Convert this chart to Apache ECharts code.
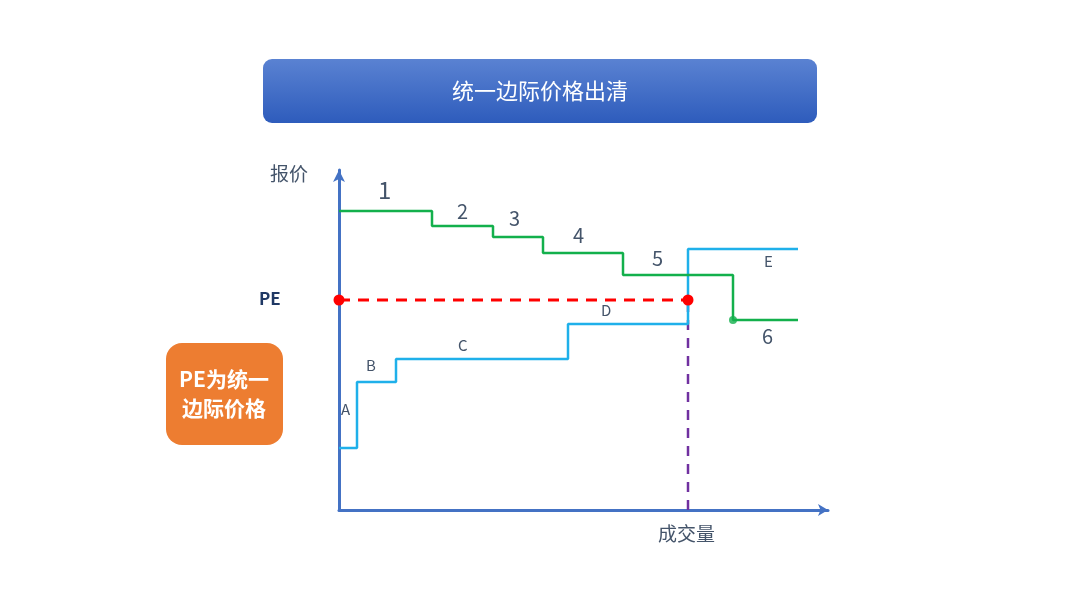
<!DOCTYPE html>
<html><head><meta charset="utf-8">
<script src="https://cdn.jsdelivr.net/npm/echarts@6/dist/echarts.min.js"></script>
<style>html,body{margin:0;padding:0;background:#fff}#c{width:1080px;height:608px}</style>
</head><body><div id="c"></div>
<script>
// Bid curve (green, descending): step start quantities and prices
var bidQty = [0, 93, 154, 204, 284, 394, 459];
var bidPrice = [299, 284, 273, 257, 235, 190, 190];
var bidLabels = ['1', '2', '3', '4', '5', '6'];
// Offer curve (blue, ascending)
var offerQty = [0, 18, 57, 229, 349, 459];
var offerPrice = [62, 128, 151, 186, 261, 261];
var offerLabels = ['A', 'B', 'C', 'D', 'E'];
// Clearing
var clearQty = 349;
var clearPrice = 210;

var F = '"Noto Sans CJK SC", "Noto Sans", sans-serif';
var bidData = bidQty.map(function (q, i) { return [q, bidPrice[i]]; });
var offerData = offerQty.map(function (q, i) { return [q, offerPrice[i]]; });

var chart = echarts.init(document.getElementById('c'));
function txt(x, y, s, size, color, weight) {
  return { type: 'text', left: x, top: y, z: 20,
    style: { text: s, fontSize: size, fill: color, fontFamily: F, fontWeight: weight || 'normal' } };
}
var labelColor = '#44546a';
chart.setOption({
  animation: false,
  grid: { left: 339, top: 170, width: 489, height: 340 },
  xAxis: { type: 'value', min: 0, max: 489, axisLine: { lineStyle: { color: '#4472c4', width: 3 }, symbol: ['none', 'arrow'], symbolSize: [9, 10] },
    axisTick: { show: false }, axisLabel: { show: false }, splitLine: { show: false } },
  yAxis: { type: 'value', min: 0, max: 340, axisLine: { lineStyle: { color: '#4472c4', width: 3 }, symbol: ['none', 'arrow'], symbolSize: [9, 12] },
    axisTick: { show: false }, axisLabel: { show: false }, splitLine: { show: false } },
  graphic: [
    { type: 'rect', shape: { x: 263, y: 59, width: 554, height: 64, r: 9 },
      style: { fill: new echarts.graphic.LinearGradient(0, 0, 0, 1, [{ offset: 0, color: '#5a82d2' }, { offset: 1, color: '#2e5cbc' }]) } },
    { type: 'text', x: 540, y: 91, style: { text: '统一边际价格出清', fontSize: 22, fill: '#ffffff', fontFamily: F, align: 'center', verticalAlign: 'middle' } },
    { type: 'rect', shape: { x: 166, y: 343, width: 117, height: 102, r: 16 }, style: { fill: '#ed7d31' } },
    { type: 'text', x: 224, y: 394, style: { text: 'PE为统一\n边际价格', fontSize: 21, lineHeight: 29, fill: '#ffffff', fontFamily: F, fontWeight: 'bold', align: 'center', verticalAlign: 'middle' } },
    txt(270, 164, '报价', 19, labelColor),
    txt(658, 524, '成交量', 19, labelColor),
    txt(259, 290, 'PE', 17, '#1f3864', 'bold'),
    txt(378, 178, bidLabels[0], 24, labelColor),
    txt(457, 201, bidLabels[1], 20, labelColor),
    txt(509, 208, bidLabels[2], 20, labelColor),
    txt(573, 225, bidLabels[3], 20, labelColor),
    txt(652, 248, bidLabels[4], 20, labelColor),
    txt(762, 326, bidLabels[5], 20, labelColor),
    txt(341, 402, offerLabels[0], 15, labelColor),
    txt(366, 358, offerLabels[1], 15, labelColor),
    txt(458, 338, offerLabels[2], 15, labelColor),
    txt(601, 303, offerLabels[3], 15, labelColor),
    txt(764, 254, offerLabels[4], 15, labelColor)
  ],
  series: [
    { type: 'line', data: [[clearQty, 0], [clearQty, clearPrice]], symbol: 'none', z: 2,
      lineStyle: { color: '#7030a0', width: 2.5, type: [10, 8] } },
    { type: 'line', step: 'end', data: offerData, symbol: 'none', z: 3,
      lineStyle: { color: '#1fb0ea', width: 2.5 } },
    { type: 'line', step: 'end', data: bidData, symbol: 'none', z: 4,
      lineStyle: { color: '#13b04c', width: 2.5 } },
    { type: 'scatter', data: [[bidQty[5], bidPrice[5]]], symbolSize: 8, itemStyle: { color: '#13b04c' }, z: 5 },
    { type: 'line', data: [[0, clearPrice], [clearQty, clearPrice]], symbol: 'circle', symbolSize: 11, z: 6,
      itemStyle: { color: '#ff0000' }, lineStyle: { color: '#ff0000', width: 3, type: [11, 8] } }
  ]
});
</script></body></html>
